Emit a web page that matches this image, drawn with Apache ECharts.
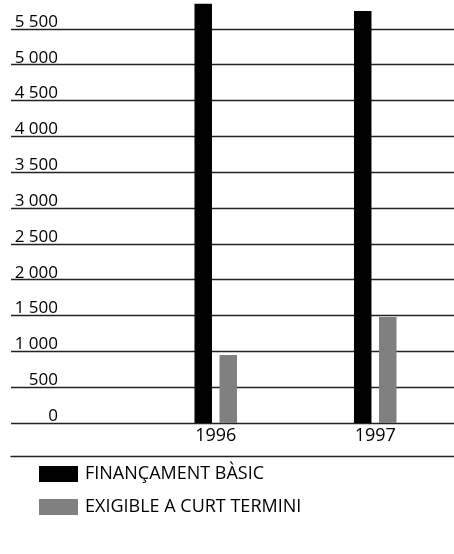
<!DOCTYPE html>
<html>
<head>
<meta charset="utf-8">
<script src="https://cdn.jsdelivr.net/npm/echarts@6/dist/echarts.min.js"></script>
<style>
html,body{margin:0;padding:0;background:#fff;}
#c{width:454px;height:554px;}
</style>
</head>
<body>
<div id="c"></div>
<script>
var years = ['1996', '1997'];
var seriesNames = ['FINANÇAMENT BÀSIC', 'EXIGIBLE A CURT TERMINI'];
var financamentBasic = [5850, 5750];
var exigibleCurtTermini = [950, 1480];
var yMin = 0, yMax = 6000, yStep = 500;

function fmt(v){
  var s = String(v);
  return s.length > 3 ? s.slice(0, s.length-3) + ' ' + s.slice(-3) : s;
}

var FONT = '"Open Sans", sans-serif';
var LINE = '#222';

var chart = echarts.init(document.getElementById('c'), null, {renderer:'canvas'});
chart.setOption({
  animation: false,
  backgroundColor: '#fff',
  grid: [
    {left: 11, right: 0, top: -7, bottom: 131, containLabel: false, outerBoundsMode: 'none'},
    {left: 136, width: 319, top: -7, bottom: 131, containLabel: false, outerBoundsMode: 'none'}
  ],
  xAxis: [
    {gridIndex: 0, type: 'value', min: 0, max: 1, position: 'bottom', offset: 33,
     axisLine: {show: true, onZero: false, lineStyle: {color: LINE, width: 1.3}},
     axisTick: {show: false}, axisLabel: {show: false}, splitLine: {show: false}},
    {gridIndex: 1, type: 'category', data: years, position: 'bottom',
     axisLine: {show: false}, axisTick: {show: false},
     axisLabel: {show: true, margin: 4, color: '#000', fontFamily: FONT, fontSize: 18}}
  ],
  yAxis: [
    {gridIndex: 0, type: 'value', min: yMin, max: yMax, interval: yStep,
     axisLine: {show: false}, axisTick: {show: false},
     splitLine: {show: true, lineStyle: {color: LINE, width: 1.3}},
     axisLabel: {show: true, inside: true, margin: 47, align: 'right', verticalAlign: 'bottom',
       lineHeight: 14,
       color: '#000', fontFamily: FONT, fontSize: 17,
       formatter: function(v){ return v >= yMax ? '' : fmt(v); }}},
    {gridIndex: 1, type: 'value', min: yMin, max: yMax, interval: yStep, show: false}
  ],
  legend: {
    orient: 'vertical', left: 39, top: 465, padding: 0,
    itemWidth: 39, itemHeight: 16, itemGap: 15, icon: 'rect',
    textStyle: {color: '#000', fontFamily: FONT, fontSize: 18, lineHeight: 16, padding: [0,0,0,2]},
    data: seriesNames
  },
  series: [
    {name: seriesNames[0], type: 'bar', xAxisIndex: 1, yAxisIndex: 1, data: financamentBasic,
     barWidth: 17.5, barGap: '43%', itemStyle: {color: '#000'}},
    {name: seriesNames[1], type: 'bar', xAxisIndex: 1, yAxisIndex: 1, data: exigibleCurtTermini,
     barWidth: 17.5, barGap: '43%', itemStyle: {color: '#808080'}}
  ]
});
</script>
</body>
</html>
